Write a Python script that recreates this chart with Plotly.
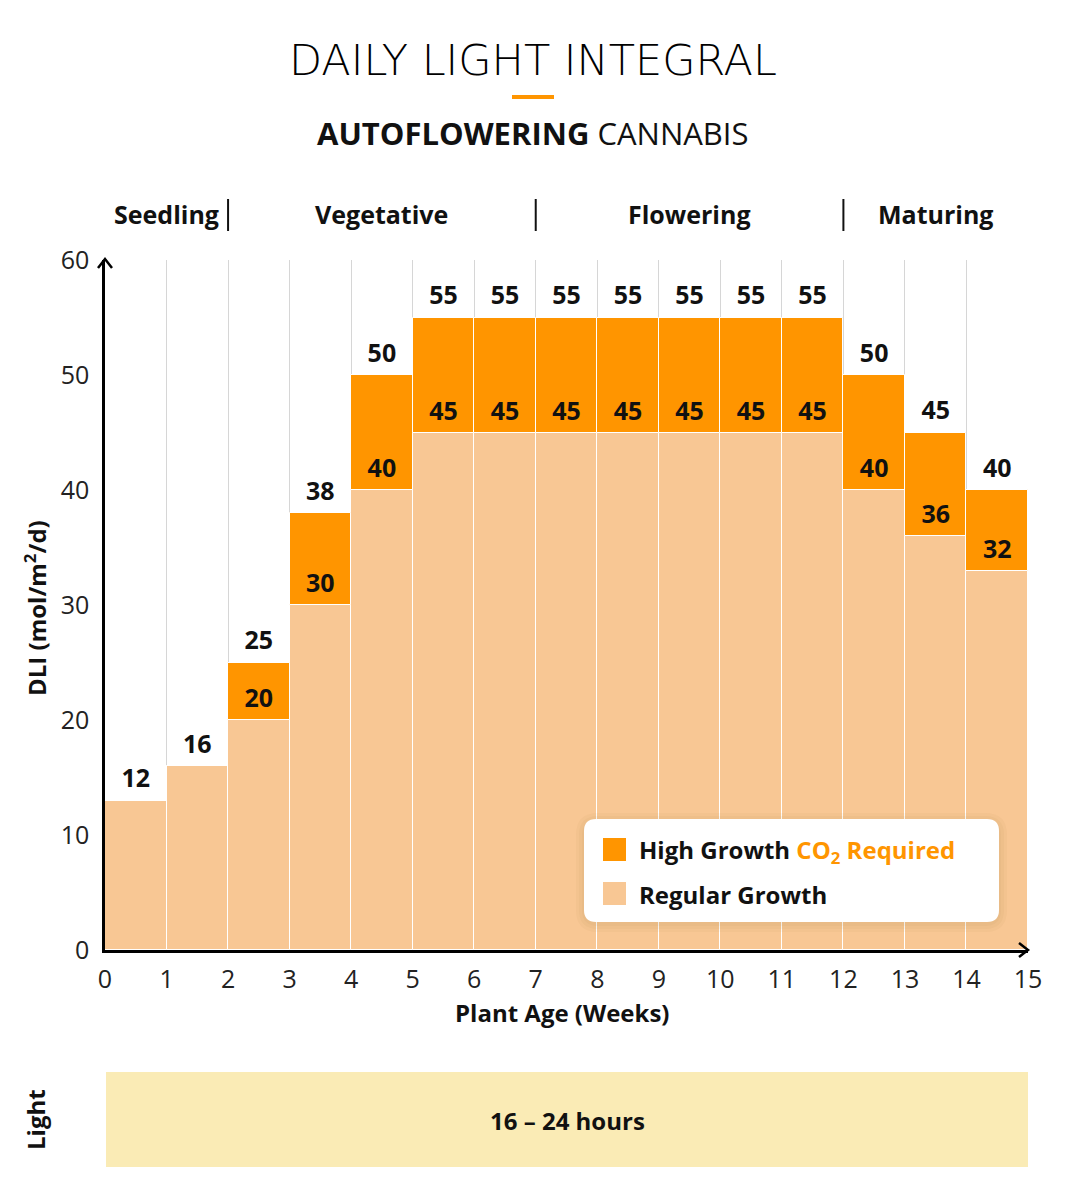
import plotly.graph_objects as go

# ---------------- data ----------------
weeks = list(range(15))                      # week start 0..14
regular = [13, 16, 20, 30, 40, 45, 45, 45, 45, 45, 45, 45, 40, 36, 33]
total = [13, 16, 25, 38, 50, 55, 55, 55, 55, 55, 55, 55, 50, 45, 40]
top_labels = ["12", "16", "25", "38", "50", "55", "55", "55", "55", "55", "55", "55", "50", "45", "40"]
inner_labels = ["", "", "20", "30", "40", "45", "45", "45", "45", "45", "45", "45", "40", "36", "32"]
phases = ["Seedling", "Vegetative", "Flowering", "Maturing"]
phase_centers = [1, 4.5, 9.5, 13.5]
phase_breaks = [2, 7, 12]
x_ticks = list(range(16))
y_ticks = [0, 10, 20, 30, 40, 50, 60]

FONT = "Open Sans"
ORANGE = "#FF9500"
PEACH = "#F8C794"
INK = "#111"

OFF = 8  # page body margin
W, H = 1068, 1190
L, T = 105 - OFF, 260 - OFF
R, B = W - (1028 - OFF), H - (950 - OFF)
PW, PH = W - L - R, H - T - B


def X(px):
    return (px - OFF - L) / PW


def Y(py):
    return (H - B - (py - OFF)) / PH


xc = [w + 0.5 for w in weeks]
high = [t - r for t, r in zip(total, regular)]

fig = go.Figure()
fig.add_trace(go.Bar(x=xc, y=regular, width=1, marker=dict(color=PEACH, line=dict(color="white", width=1)),
                     showlegend=False, hoverinfo="skip"))
fig.add_trace(go.Bar(x=xc, y=high, base=regular, width=1,
                     marker=dict(color=ORANGE, line=dict(color="white", width=1)),
                     showlegend=False, hoverinfo="skip"))
fig.add_trace(go.Scatter(x=xc, y=[t + 1.7 for t in total], mode="text", text=top_labels,
                         textfont=dict(family=FONT, size=25, color=INK, weight="bold"),
                         showlegend=False, hoverinfo="skip"))
fig.add_trace(go.Scatter(x=xc, y=[r + 1.65 for r in regular], mode="text", text=inner_labels,
                         textfont=dict(family=FONT, size=25, color=INK, weight="bold"),
                         showlegend=False, hoverinfo="skip"))

shapes = []
ann = []


def note(px, py, text, size=25, weight="bold", xanchor="center", angle=0, color=INK, family=FONT, xref="paper"):
    ann.append(dict(x=px if xref == "x" else X(px), y=Y(py), xref=xref, yref="paper", text=text,
                    showarrow=False, xanchor=xanchor, yanchor="middle", textangle=angle,
                    font=dict(family=family, size=size, color=color, weight=weight)))


# axis chevrons
shapes.append(dict(type="path", xref="paper", yref="paper",
                   path=f"M {X(98)} {Y(268)} L {X(105)} {Y(259)} L {X(112)} {Y(268)}",
                   line=dict(color="black", width=2.5)))
shapes.append(dict(type="path", xref="paper", yref="paper",
                   path=f"M {X(1019)} {Y(943)} L {X(1028)} {Y(950)} L {X(1019)} {Y(957)}",
                   line=dict(color="black", width=2.5)))

# phase labels and separators
for name, c in zip(phases, phase_centers):
    note(c, 214, name, xref="x")
for b in phase_breaks:
    shapes.append(dict(type="line", xref="x", yref="paper", x0=b, x1=b, y0=Y(231), y1=Y(199),
                       line=dict(color=INK, width=2)))

# legend box
def rrect(x0, y0, x1, y1, r):
    rx, ry = r / PW, r / PH
    a0, a1 = X(x0), X(x1)
    b0, b1 = Y(y1), Y(y0)
    return (f"M {a0+rx} {b0} L {a1-rx} {b0} Q {a1} {b0} {a1} {b0+ry} L {a1} {b1-ry} "
            f"Q {a1} {b1} {a1-rx} {b1} L {a0+rx} {b1} Q {a0} {b1} {a0} {b1-ry} "
            f"L {a0} {b0+ry} Q {a0} {b0} {a0+rx} {b0} Z")

for i in range(3):
    g = 2 + 3 * i
    shapes.append(dict(type="path", xref="paper", yref="paper",
                       path=rrect(584 - g, 819 - g + 2, 999 + g, 922 + g + 2, 14 + g),
                       fillcolor="rgba(120,80,40,0.035)", line=dict(width=0)))
shapes.append(dict(type="path", xref="paper", yref="paper", path=rrect(584, 819, 999, 922, 12),
                   fillcolor="white", line=dict(width=0)))
shapes.append(dict(type="rect", xref="paper", yref="paper", x0=X(603), x1=X(626), y0=Y(861), y1=Y(838),
                   fillcolor=ORANGE, line=dict(width=0)))
shapes.append(dict(type="rect", xref="paper", yref="paper", x0=X(603), x1=X(626), y0=Y(905), y1=Y(882),
                   fillcolor=PEACH, line=dict(width=0)))
note(637, 851, f"High Growth <span style='color:{ORANGE}'>CO<sub>2</sub> Required</span>", size=24, xanchor="left")
note(637, 894, "Regular Growth", size=24, xanchor="left")

# light band
shapes.append(dict(type="rect", xref="paper", yref="paper", x0=X(106), x1=X(1028), y0=Y(1167), y1=Y(1072),
                   fillcolor="#FAEBB5", line=dict(width=0)))
note(567, 1120, "16 – 24 hours", size=24)
note(35, 1120, "Light", size=24, angle=-90)

# axis titles
note(35, 608, "DLI (mol/m<sup>2</sup>/d)", size=24, angle=-90)
note(562, 1012, "Plant Age (Weeks)", size=24)

# title
note(533, 60, "DAILY LIGHT INTEGRAL", size=43, weight=200, family="DejaVu Sans", color="#000")
shapes.append(dict(type="rect", xref="paper", yref="paper", x0=X(512), x1=X(554), y0=Y(99), y1=Y(95),
                   fillcolor=ORANGE, line=dict(width=0)))
note(533, 133, "<b>AUTOFLOWERING</b> CANNABIS", size=31, weight="normal")

fig.update_layout(
    width=W, height=H,
    margin=dict(l=L, r=R, t=T, b=B),
    paper_bgcolor="white", plot_bgcolor="white",
    barmode="overlay", bargap=0,
    shapes=shapes, annotations=ann,
    font=dict(family=FONT, color="#222"),
    xaxis=dict(range=[0, 15], tickvals=x_ticks, showgrid=True, gridcolor="#d6d6d6", gridwidth=1,
               zeroline=False, showline=True, linecolor="black", linewidth=2.5,
               tickfont=dict(family=FONT, size=25, color="#222"), ticks="", ticklabelstandoff=5),
    yaxis=dict(range=[0, 60], tickvals=y_ticks, showgrid=False, zeroline=False, showline=True,
               linecolor="black", linewidth=2.5, tickfont=dict(family=FONT, size=25, color="#222"),
               ticks="", ticklabelstandoff=8),
)

fig.write_html("out.html")
